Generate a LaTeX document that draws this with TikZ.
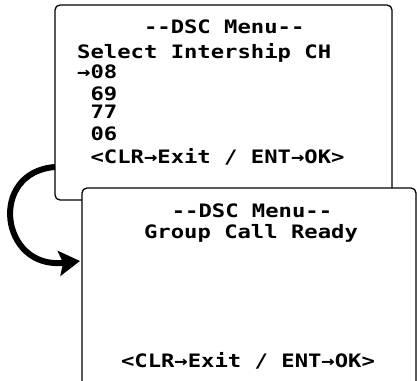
\documentclass[tikz,border=0pt]{standalone}
\usepackage{fontspec}
\newfontfamily\lcd[FakeStretch=1.2]{DejaVu Sans Mono Bold}
\usetikzlibrary{arrows.meta}
\begin{document}
\begin{tikzpicture}[x=1pt,y=-1pt,
  screen/.style={draw=black,line width=1.3pt,rounded corners=5pt,fill=white},
  txt/.style={inner sep=0pt,anchor=base west,font=\lcd\fontsize{18.5}{19}\selectfont},
  ctxt/.style={inner sep=0pt,anchor=base,font=\lcd\fontsize{18.5}{19}\selectfont},
  flow/.style={line width=6pt,-{Stealth[length=21pt,width=25pt,inset=4pt]}}]
\useasboundingbox (0,0) rectangle (417,380);
% first screen
\draw[screen] (55,5) rectangle (392,200);
\node[txt] (t1) at (77,33) {\ \ \ \ \ --DSC Menu--};
\node[txt] (t2) at (77,58) {Select Intership CH};
\node[txt] (t3) at (77,78) {→08};
\node[txt] (t4) at (77,100) {\ 69};
\node[txt] (t5) at (77,118) {\ 77};
\node[txt] (t6) at (77,140) {\ 06};
\node[txt] (t7) at (77,163) {\ <CLR→Exit / ENT→OK>};
% second screen
\draw[screen] (82,188) rectangle (416,395);
\node[ctxt] (u1) at (252,217) {--DSC Menu--};
\node[ctxt] (u2) at (251,238) {Group Call Ready};
\node[ctxt] (u3) at (248,367) {<CLR→Exit / ENT→OK>};
% arrow
\coordinate (s) at (55,167);
\coordinate (e) at (80,261);
\draw[flow] (s) .. controls (-12,172) and (0,270) .. (e);
\end{tikzpicture}
\end{document}
